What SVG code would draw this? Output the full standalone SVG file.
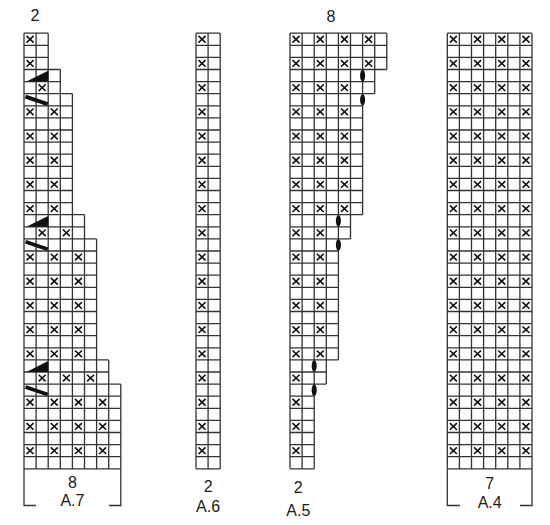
<svg xmlns="http://www.w3.org/2000/svg" xmlns:xlink="http://www.w3.org/1999/xlink" width="550" height="525" viewBox="0 0 550 525">
<style>
.g{fill:none;stroke:#333;stroke-width:1.3;vector-effect:non-scaling-stroke}
.xm{fill:none;stroke:#111;stroke-width:1.6;vector-effect:non-scaling-stroke}
.tk{fill:none;stroke:#111;stroke-width:3.8;vector-effect:non-scaling-stroke}
.dot{fill:#111}
.br{fill:none;stroke:#333;stroke-width:1.3}
.t{font-family:"Liberation Sans",Arial,sans-serif;font-size:16px;fill:#1a1a1a;text-anchor:middle}
</style>
<defs>
<path id="x" class="xm" d="M.21 .225l.58 .55m0-.55l-.58 .55"/>
<g id="x2"><use href="#x"/><use href="#x" x="2"/></g>
<g id="x3"><use href="#x2"/><use href="#x" x="4"/></g>
<g id="x4"><use href="#x3"/><use href="#x" x="6"/></g>
</defs>
<rect width="550" height="525" fill="#fff"/>

<g id="chart-A7">
<g transform="translate(24,33.2) scale(12.1)">
<path class="g" d="M0 0H2M0 1H2M0 2H2M0 3H3M0 4H3M0 5H4M0 6H4M0 7H4M0 8H4M0 9H4M0 10H4M0 11H4M0 12H4M0 13H4M0 14H4M0 15H5M0 16H5M0 17H6M0 18H6M0 19H6M0 20H6M0 21H6M0 22H6M0 23H6M0 24H6M0 25H6M0 26H6M0 27H7M0 28H7M0 29H8M0 30H8M0 31H8M0 32H8M0 33H8M0 34H8M0 35H8M0 36H8M0 0V36M1 0V36M2 0V36M3 3V36M4 5V36M5 15V36M6 17V36M7 27V36M8 29V36"/>
<use href="#x" y="0"/><use href="#x" y="2"/><use href="#x" x="1" y="4"/>
<use href="#x2" y="6"/><use href="#x2" y="8"/><use href="#x2" y="10"/><use href="#x2" y="12"/><use href="#x2" y="14"/>
<use href="#x2" x="1" y="16"/>
<use href="#x3" y="18"/><use href="#x3" y="20"/><use href="#x3" y="22"/><use href="#x3" y="24"/><use href="#x3" y="26"/>
<use href="#x3" x="1" y="28"/>
<use href="#x4" y="30"/><use href="#x4" y="32"/><use href="#x4" y="34"/>
<polygon class="dot" points="0.2,4 2,3.1 2,4"/>
<polygon class="dot" points="0.2,16 2,15.1 2,16"/>
<polygon class="dot" points="0.2,28 2,27.1 2,28"/>
<path class="tk" d="M0.12 5.24L1.96 5.86M0.12 17.24L1.96 17.86M0.12 29.24L1.96 29.86"/>
</g>
<path class="br" d="M24 468.8V505.5H36M109 505.5H120.8V468.8"/>
<text class="t" x="35" y="20.5">2</text>
<text class="t" x="72.4" y="487.5">8</text>
<text class="t" x="72.4" y="505.5">A.7</text>
</g>

<g id="chart-A6">
<g transform="translate(196,33.2) scale(12.1)">
<path class="g" d="M0 0H2M0 1H2M0 2H2M0 3H2M0 4H2M0 5H2M0 6H2M0 7H2M0 8H2M0 9H2M0 10H2M0 11H2M0 12H2M0 13H2M0 14H2M0 15H2M0 16H2M0 17H2M0 18H2M0 19H2M0 20H2M0 21H2M0 22H2M0 23H2M0 24H2M0 25H2M0 26H2M0 27H2M0 28H2M0 29H2M0 30H2M0 31H2M0 32H2M0 33H2M0 34H2M0 35H2M0 36H2M0 0V36M1 0V36M2 0V36"/>
<use href="#x" y="0"/><use href="#x" y="2"/><use href="#x" y="4"/><use href="#x" y="6"/><use href="#x" y="8"/><use href="#x" y="10"/><use href="#x" y="12"/><use href="#x" y="14"/><use href="#x" y="16"/><use href="#x" y="18"/><use href="#x" y="20"/><use href="#x" y="22"/><use href="#x" y="24"/><use href="#x" y="26"/><use href="#x" y="28"/><use href="#x" y="30"/><use href="#x" y="32"/><use href="#x" y="34"/>
</g>
<text class="t" x="208.1" y="491.7">2</text>
<text class="t" x="208.1" y="512">A.6</text>
</g>

<g id="chart-A5">
<g transform="translate(290,33.2) scale(12.1)">
<path class="g" d="M0 0H8M0 1H8M0 2H8M0 3H8M0 4H7M0 5H7M0 6H6M0 7H6M0 8H6M0 9H6M0 10H6M0 11H6M0 12H6M0 13H6M0 14H6M0 15H6M0 16H5M0 17H5M0 18H4M0 19H4M0 20H4M0 21H4M0 22H4M0 23H4M0 24H4M0 25H4M0 26H4M0 27H4M0 28H3M0 29H3M0 30H2M0 31H2M0 32H2M0 33H2M0 34H2M0 35H2M0 36H2M0 0V36M1 0V36M2 0V36M3 0V29M4 0V27M5 0V17M6 0V15M7 0V5M8 0V3"/>
<use href="#x4" y="0"/><use href="#x4" y="2"/>
<use href="#x3" y="4"/><use href="#x3" y="6"/><use href="#x3" y="8"/><use href="#x3" y="10"/><use href="#x3" y="12"/><use href="#x3" y="14"/>
<use href="#x2" y="16"/><use href="#x2" y="18"/><use href="#x2" y="20"/><use href="#x2" y="22"/><use href="#x2" y="24"/><use href="#x2" y="26"/>
<use href="#x" y="28"/><use href="#x" y="30"/><use href="#x" y="32"/><use href="#x" y="34"/>
<ellipse class="dot" cx="6" cy="3.5" rx="0.21" ry="0.48"/>
<ellipse class="dot" cx="6" cy="5.5" rx="0.21" ry="0.48"/>
<ellipse class="dot" cx="4" cy="15.5" rx="0.21" ry="0.48"/>
<ellipse class="dot" cx="4" cy="17.5" rx="0.21" ry="0.48"/>
<ellipse class="dot" cx="2" cy="27.5" rx="0.21" ry="0.48"/>
<ellipse class="dot" cx="2" cy="29.5" rx="0.21" ry="0.48"/>
</g>
<text class="t" x="331" y="21.5">8</text>
<text class="t" x="298.3" y="492.5">2</text>
<text class="t" x="298.3" y="515.5">A.5</text>
</g>

<g id="chart-A4">
<g transform="translate(447.3,33.2) scale(12.1)">
<path class="g" d="M0 0H7M0 1H7M0 2H7M0 3H7M0 4H7M0 5H7M0 6H7M0 7H7M0 8H7M0 9H7M0 10H7M0 11H7M0 12H7M0 13H7M0 14H7M0 15H7M0 16H7M0 17H7M0 18H7M0 19H7M0 20H7M0 21H7M0 22H7M0 23H7M0 24H7M0 25H7M0 26H7M0 27H7M0 28H7M0 29H7M0 30H7M0 31H7M0 32H7M0 33H7M0 34H7M0 35H7M0 36H7M0 0V36M1 0V36M2 0V36M3 0V36M4 0V36M5 0V36M6 0V36M7 0V36"/>
<use href="#x4" y="0"/><use href="#x4" y="2"/><use href="#x4" y="4"/><use href="#x4" y="6"/><use href="#x4" y="8"/><use href="#x4" y="10"/><use href="#x4" y="12"/><use href="#x4" y="14"/><use href="#x4" y="16"/><use href="#x4" y="18"/><use href="#x4" y="20"/><use href="#x4" y="22"/><use href="#x4" y="24"/><use href="#x4" y="26"/><use href="#x4" y="28"/><use href="#x4" y="30"/><use href="#x4" y="32"/><use href="#x4" y="34"/>
</g>
<path class="br" d="M447.3 468.8V505.5H460M520 505.5H532V468.8"/>
<text class="t" x="489.7" y="489">7</text>
<text class="t" x="489.7" y="508">A.4</text>
</g>
</svg>
